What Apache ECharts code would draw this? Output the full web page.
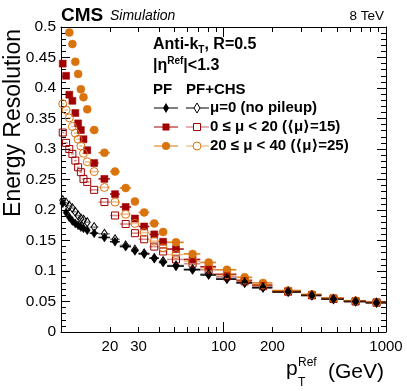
<!DOCTYPE html>
<html><head><meta charset="utf-8">
<script src="https://cdn.jsdelivr.net/npm/echarts@6/dist/echarts.min.js"></script>
<style>html,body{margin:0;padding:0;background:#fff}#c{width:407px;height:391px}</style>
</head><body><div id="c"></div>
<script>
// pT bins (GeV)
const binLo = [10,10.5,11,11.5,12,12.5,13,13.5,14,15,17,20,23,27,30,35,40,45,57,72,90,120,150,200,300,400,550,750];
const binHi = [10.5,11,11.5,12,12.5,13,13.5,14,15,17,20,23,27,30,35,40,45,57,72,90,120,150,200,300,400,550,750,1000];
const ptCenter = [10.25,10.75,11.25,11.75,12.25,12.75,13.25,13.75,14.5,16,18.5,21.5,25,28.5,32.5,37.5,42.5,51,64.5,81,105,135,175,250,350,475,650,875];

// Energy resolution values
const pfMu0   = [0.211,0.196,0.188,0.182,0.178,0.175,0.172,0.170,0.167,0.162,0.155,0.148,0.140,0.133,0.128,0.121,0.114,0.108,0.102,0.0934,0.0866,0.0805,0.0725,0.0655,0.060,0.054,0.050,0.048];
const chsMu0  = [0.216,0.212,0.207,0.203,0.197,0.191,0.186,0.184,0.180,0.172,0.161,0.152,0.142,0.135,0.129,0.121,0.116,0.109,0.103,0.095,0.088,0.081,0.073,0.066,0.060,0.054,0.050,0.048];
const pfMu15  = [0.440,0.420,0.389,0.379,0.359,0.342,0.331,0.316,0.298,0.277,0.251,0.226,0.205,0.186,0.173,0.160,0.148,0.136,0.119,0.107,0.0946,0.0846,0.0770,0.0670,0.0607,0.0552,0.0508,0.0487];
const chsMu15 = [0.327,0.310,0.300,0.292,0.281,0.270,0.262,0.251,0.246,0.233,0.213,0.191,0.177,0.162,0.152,0.140,0.132,0.119,0.112,0.102,0.091,0.083,0.075,0.066,0.060,0.054,0.050,0.048];
const pfMu25  = [null,null,0.491,0.472,0.443,0.423,0.398,0.385,0.365,0.331,0.294,0.263,0.236,0.214,0.196,0.178,0.164,0.147,0.128,0.114,0.102,0.0897,0.0805,0.0680,0.0618,0.0557,0.0513,0.0487];
const chsMu25 = [0.374,0.364,0.351,0.337,0.326,0.316,0.305,0.293,0.279,0.263,0.237,0.213,0.193,0.178,0.163,0.149,0.138,0.127,0.116,0.105,0.094,0.085,0.077,0.067,0.061,0.055,0.051,0.048];

// Axis ticks / labels
const xLabels = [20,30,100,200,1000];
const xMajorTicks = [10,100,1000];
const xMinorTicks = [20,30,40,50,60,70,80,90,200,300,400,500,600,700,800,900];

const FONT = 'Liberation Sans';
const FF = '"Liberation Sans","DejaVu Sans"';
const BLACK = '#000000', RED = '#a00000', ORANGE = '#d9730d';

function pts(vals){ return vals.map((v,i)=> v==null?null:[ptCenter[i], v]).filter(d=>d); }
function bars(vals){ return vals.map((v,i)=> v==null?null:[binLo[i], binHi[i], v]).filter(d=>d); }

function barSeries(vals, color, op, z){
  return {
    type:'custom', xAxisIndex:0, yAxisIndex:0, z:z, clip:true,
    encode:{x:[0,1], y:2},
    data: bars(vals),
    renderItem:function(params, api){
      const y = api.value(2);
      const p1 = api.coord([api.value(0), y]);
      const p2 = api.coord([api.value(1), y]);
      return {type:'line', shape:{x1:p1[0],y1:p1[1],x2:p2[0],y2:p2[1]},
              style:{stroke:color, lineWidth:1.6, opacity:op}};
    }
  };
}
function markSeries(name, vals, symbol, size, color, filled, z){
  return {
    name:name, type:'scatter', xAxisIndex:0, yAxisIndex:0, z:z,
    symbol:symbol, symbolSize:size, data:pts(vals), clip:true,
    itemStyle: filled ? {color:color, borderColor:color, borderWidth:0.5, opacity:1}
                      : {color:'rgba(0,0,0,0)', borderColor:color, borderWidth:1, opacity:1},
    emphasis:{disabled:true}
  };
}

const logCommon = {type:'log', logBase:10, min:10, max:1000, gridIndex:0, splitLine:{show:false}, minorTick:{show:false}, minorSplitLine:{show:false}};
const tickStyle = {color:'#000', width:1};

const option = {
  animation:false,
  backgroundColor:'#fff',
  grid:{left:61, right:21, top:27, bottom:59, containLabel:false},
  xAxis:[
    Object.assign({}, logCommon, {position:'bottom',
      axisLine:{show:true, lineStyle:{color:'#000', width:1}},
      axisTick:{show:true, inside:true, length:10, customValues:xMajorTicks, lineStyle:tickStyle},
      axisLabel:{show:true, customValues:xLabels, formatter:function(v){return String(Math.round(v));}, color:'#000', fontSize:15, fontFamily:FONT, margin:7}}),
    Object.assign({}, logCommon, {position:'bottom',
      axisLine:{show:false},
      axisTick:{show:true, inside:true, length:5, customValues:xMinorTicks, lineStyle:tickStyle},
      axisLabel:{show:false}}),
    Object.assign({}, logCommon, {position:'top',
      axisLine:{show:true, lineStyle:{color:'#000', width:1}},
      axisTick:{show:true, inside:true, length:10, customValues:xMajorTicks, lineStyle:tickStyle},
      axisLabel:{show:false}}),
    Object.assign({}, logCommon, {position:'top',
      axisLine:{show:false},
      axisTick:{show:true, inside:true, length:5, customValues:xMinorTicks, lineStyle:tickStyle},
      axisLabel:{show:false}})
  ],
  yAxis:[
    {type:'value', min:0, max:0.5, interval:0.05, position:'left',
     axisLine:{show:true, lineStyle:{color:'#000', width:1}},
     axisTick:{show:true, inside:true, length:9, lineStyle:tickStyle},
     minorTick:{show:true, splitNumber:5, length:5, lineStyle:tickStyle},
     axisLabel:{color:'#000', fontSize:15.5, fontFamily:FONT, margin:5},
     splitLine:{show:false}, minorSplitLine:{show:false}},
    {type:'value', min:0, max:0.5, interval:0.05, position:'right',
     axisLine:{show:true, lineStyle:{color:'#000', width:1}},
     axisTick:{show:true, inside:true, length:9, lineStyle:tickStyle},
     minorTick:{show:true, splitNumber:5, length:5, lineStyle:tickStyle},
     axisLabel:{show:false}, splitLine:{show:false}, minorSplitLine:{show:false}}
  ],
  series:[
    barSeries(pfMu15, RED, 0.9, 2),
    barSeries(pfMu25, ORANGE, 0.9, 2),
    barSeries(pfMu0, BLACK, 0.9, 2),
    barSeries(chsMu15, RED, 0.45, 2),
    barSeries(chsMu25, ORANGE, 0.45, 2),
    barSeries(chsMu0, BLACK, 0.45, 2),
    markSeries('PF 0-20', pfMu15, 'rect', 7, RED, true, 3),
    markSeries('PF 20-40', pfMu25, 'circle', 8, ORANGE, true, 4),
    markSeries('PF mu0', pfMu0, 'diamond', [6,9], BLACK, true, 5),
    markSeries('CHS 0-20', chsMu15, 'rect', 7, RED, false, 6),
    markSeries('CHS 20-40', chsMu25, 'circle', 8, ORANGE, false, 7),
    markSeries('CHS mu0', chsMu0, 'diamond', [6,9], BLACK, false, 8)
  ],
  graphic:[
    {type:'text', left:61, top:6, style:{text:'CMS', font:'bold 19px "Liberation Sans"', fill:'#000'}},
    {type:'text', left:110, top:9, style:{text:'Simulation', font:'italic 14px "Liberation Sans"', fill:'#000'}},
    {type:'text', right:23, top:9, style:{text:'8 TeV', font:'13.5px "Liberation Sans"', fill:'#000'}},
    // y-axis title
    {type:'text', x:14, y:29, rotation:Math.PI/2, style:{text:'Energy Resolution', font:'23px "Liberation Sans"', fill:'#000', align:'right', verticalAlign:'middle'}},
    // x-axis title
    {type:'text', x:384, y:372, style:{text:'(GeV)', font:'21px "Liberation Sans"', fill:'#000', align:'right', verticalAlign:'middle'}},
    {type:'text', x:286, y:369, style:{text:'p', font:'21px "Liberation Sans"', fill:'#000', align:'left', verticalAlign:'middle'}},
    {type:'text', x:298, y:363, style:{text:'Ref', font:'12px "Liberation Sans"', fill:'#000', align:'left', verticalAlign:'middle'}},
    {type:'text', x:298, y:383, style:{text:'T', font:'12px "Liberation Sans"', fill:'#000', align:'left', verticalAlign:'middle'}},
    // annotations
    {type:'text', x:153, y:45, style:{text:'{a|Anti-k}{s|T}{a|, R=0.5}', verticalAlign:'middle',
      rich:{a:{font:'bold 16px "Liberation Sans"', fill:'#000', lineHeight:20, verticalAlign:'middle'},
            s:{font:'bold 10px "Liberation Sans"', fill:'#000', lineHeight:20, verticalAlign:'bottom'}}}},
    {type:'text', x:153, y:66, style:{text:'{a||η}{s|Ref}{a||<1.3}', verticalAlign:'middle',
      rich:{a:{font:'bold 16px "Liberation Sans"', fill:'#000', lineHeight:20, verticalAlign:'middle'},
            s:{font:'bold 10px "Liberation Sans"', fill:'#000', lineHeight:20, verticalAlign:'top'}}}},
    {type:'text', x:153, y:90, style:{text:'PF', font:'bold 15px "Liberation Sans"', fill:'#000', verticalAlign:'middle'}},
    {type:'text', x:186, y:90, style:{text:'PF+CHS', font:'bold 15px "Liberation Sans"', fill:'#000', verticalAlign:'middle'}},
    // legend row 1
    {type:'line', shape:{x1:154,y1:108,x2:178,y2:108}, style:{stroke:BLACK, lineWidth:1}},
    {type:'polygon', shape:{points:[[166,103],[169,108],[166,113],[163,108]]}, style:{fill:BLACK}},
    {type:'line', shape:{x1:186,y1:108,x2:209,y2:108}, style:{stroke:BLACK, lineWidth:1}},
    {type:'polygon', shape:{points:[[197,103],[200,108],[197,113],[194,108]]}, style:{fill:'#fff', stroke:BLACK, lineWidth:1}},
    {type:'text', x:210, y:108, style:{text:'μ=0 (no pileup)', font:'bold 15px ' + FF, fill:'#000', verticalAlign:'middle'}},
    // legend row 2
    {type:'line', shape:{x1:154,y1:127,x2:178,y2:127}, style:{stroke:RED, lineWidth:1}},
    {type:'rect', shape:{x:162.5,y:123.5,width:7,height:7}, style:{fill:RED}},
    {type:'line', shape:{x1:186,y1:127,x2:209,y2:127}, style:{stroke:RED, lineWidth:1, opacity:0.6}},
    {type:'rect', shape:{x:193.5,y:123.5,width:7,height:7}, style:{fill:'#fff', stroke:RED, lineWidth:1}},
    {type:'text', x:210, y:127, style:{text:'0 ≤ μ < 20 (⟨μ⟩=15)', font:'bold 15px ' + FF, fill:'#000', verticalAlign:'middle'}},
    // legend row 3
    {type:'line', shape:{x1:154,y1:146,x2:178,y2:146}, style:{stroke:ORANGE, lineWidth:1}},
    {type:'circle', shape:{cx:166,cy:146,r:4}, style:{fill:ORANGE}},
    {type:'line', shape:{x1:186,y1:146,x2:209,y2:146}, style:{stroke:ORANGE, lineWidth:1, opacity:0.6}},
    {type:'circle', shape:{cx:197,cy:146,r:4}, style:{fill:'#fff', stroke:ORANGE, lineWidth:1}},
    {type:'text', x:210, y:146, style:{text:'20 ≤ μ < 40 (⟨μ⟩=25)', font:'bold 15px ' + FF, fill:'#000', verticalAlign:'middle'}}
  ]
};
const chart = echarts.init(document.getElementById('c'), null, {renderer:'canvas'});
chart.setOption(option);
</script>
</body></html>
